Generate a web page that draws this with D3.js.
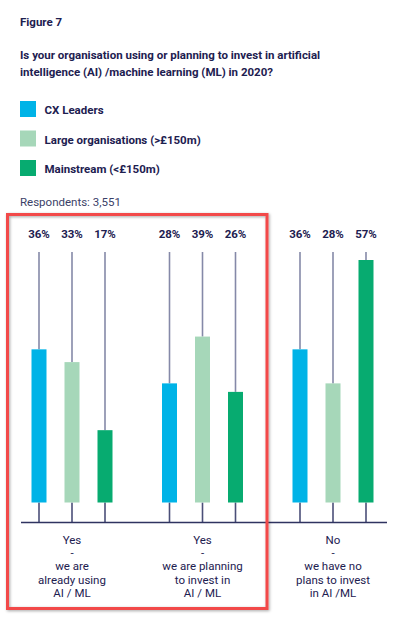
<!DOCTYPE html>
<html>
<head>
<meta charset="utf-8">
<script src="https://cdn.jsdelivr.net/npm/d3@7"></script>
<style>
  body { margin: 0; background: #fff; }
  text { font-family: Roboto, "Noto Sans", sans-serif; }
</style>
</head>
<body>
<div id="chart"></div>
<script>
// data
var categories = ["yes_using", "yes_planning", "no"];
var categoryLabels = [
  ["Yes", "-", "we are", "already using", "AI / ML"],
  ["Yes", "-", "we are planning", "to invest in", "AI / ML"],
  ["No", "-", "we have no", "plans to invest", "in AI /ML"]
];
var seriesNames = ["CX Leaders", "Large organisations (>£150m)", "Mainstream (<£150m)"];
var cxLeaders = [36, 28, 36];
var largeOrgs = [33, 39, 28];
var mainstream = [17, 26, 57];

var colors = ["#00b3e7", "#a6d7b9", "#07ab70"];
var navy = "#1d2050";

var svgWidth = 415;
var svgHeight = 620;

var svg = d3.select("#chart")
  .append("svg")
  .attr("width", svgWidth)
  .attr("height", svgHeight);

// shadow for red box
var defs = svg.append("defs");
var filter = defs.append("filter").attr("id", "shadow")
  .attr("x", "-10%").attr("y", "-10%").attr("width", "120%").attr("height", "120%");
filter.append("feDropShadow")
  .attr("dx", 1).attr("dy", 1).attr("stdDeviation", 1.5)
  .attr("flood-color", "#000").attr("flood-opacity", 0.35);

// header texts
svg.append("text")
  .attr("x", 20).attr("y", 26)
  .attr("fill", navy).attr("font-size", 11.5).attr("font-weight", "bold")
  .text("Figure 7");

svg.append("text")
  .attr("x", 20).attr("y", 59)
  .attr("fill", navy).attr("font-size", 11.5).attr("font-weight", "bold")
  .text("Is your organisation using or planning to invest in artificial");
svg.append("text")
  .attr("x", 20).attr("y", 76)
  .attr("fill", navy).attr("font-size", 11.5).attr("font-weight", "bold")
  .text("intelligence (AI) /machine learning (ML) in 2020?");

// legend
var legend = svg.selectAll(".legend")
  .data(seriesNames)
  .enter()
  .append("g")
  .attr("class", "legend")
  .attr("transform", (d, i) => `translate(20, ${101 + i * 29.5})`);

legend.append("rect")
  .attr("width", 16).attr("height", 16)
  .attr("fill", (d, i) => colors[i]);

legend.append("text")
  .attr("x", 24.5).attr("y", 13)
  .attr("fill", navy).attr("font-size", 11.5).attr("font-weight", "bold")
  .text(d => d);

svg.append("text")
  .attr("x", 20).attr("y", 206)
  .attr("fill", "#3b3f68").attr("font-size", 11.5)
  .text("Respondents: 3,551");

// scales
var barBottom = 502.5;
var baseline = 522.5;
var stemTop = 252;

var x0 = d3.scalePoint()
  .domain(categories)
  .range([72, 333]);

var x1 = d3.scalePoint()
  .domain(seriesNames)
  .range([-33, 33]);

var y = d3.scaleLinear()
  .domain([0, 57])
  .range([barBottom, 260]);

var rows = [];
categories.forEach(function(c, ci) {
  [cxLeaders, largeOrgs, mainstream].forEach(function(s, si) {
    rows.push({ cat: c, series: seriesNames[si], si: si, value: s[ci] });
  });
});

var barW = 15;
var chartGroup = svg.append("g");

// upper stems
chartGroup.selectAll(".stem")
  .data(rows)
  .enter()
  .append("line")
  .attr("x1", d => x0(d.cat) + x1(d.series))
  .attr("x2", d => x0(d.cat) + x1(d.series))
  .attr("y1", stemTop)
  .attr("y2", d => y(d.value))
  .attr("stroke", "#8589a8")
  .attr("stroke-width", 1.6);

// lower stems
chartGroup.selectAll(".stemLow")
  .data(rows)
  .enter()
  .append("line")
  .attr("x1", d => x0(d.cat) + x1(d.series))
  .attr("x2", d => x0(d.cat) + x1(d.series))
  .attr("y1", barBottom)
  .attr("y2", baseline)
  .attr("stroke", "#4b4f78")
  .attr("stroke-width", 1.6);

// bars
chartGroup.selectAll(".bar")
  .data(rows)
  .enter()
  .append("rect")
  .attr("x", d => x0(d.cat) + x1(d.series) - barW / 2)
  .attr("y", d => y(d.value))
  .attr("width", barW)
  .attr("height", d => barBottom - y(d.value))
  .attr("fill", d => colors[d.si]);

// baseline
chartGroup.append("line")
  .attr("x1", 21).attr("x2", 387)
  .attr("y1", baseline).attr("y2", baseline)
  .attr("stroke", "#2f3360").attr("stroke-width", 1.6);

// value labels
chartGroup.selectAll(".val")
  .data(rows)
  .enter()
  .append("text")
  .attr("x", d => x0(d.cat) + x1(d.series))
  .attr("y", 238)
  .attr("text-anchor", "middle")
  .attr("fill", navy).attr("font-size", 11.5).attr("font-weight", "bold")
  .text(d => d.value + "%");

// category labels
var catLabel = chartGroup.selectAll(".cat")
  .data(categories)
  .enter()
  .append("text")
  .attr("text-anchor", "middle")
  .attr("fill", navy).attr("font-size", 11.5);

catLabel.selectAll("tspan")
  .data((d, i) => categoryLabels[i].map(t => ({ t: t, x: x0(d) })))
  .enter()
  .append("tspan")
  .attr("x", d => d.x)
  .attr("y", (d, i) => 544 + i * 13.2)
  .text(d => d.t);

// red highlight box
svg.append("rect")
  .attr("x", 7.5).attr("y", 214.5)
  .attr("width", 259.5).attr("height", 394)
  .attr("fill", "none")
  .attr("stroke", "#f24848")
  .attr("stroke-width", 3)
  .attr("filter", "url(#shadow)");
</script>
</body>
</html>
